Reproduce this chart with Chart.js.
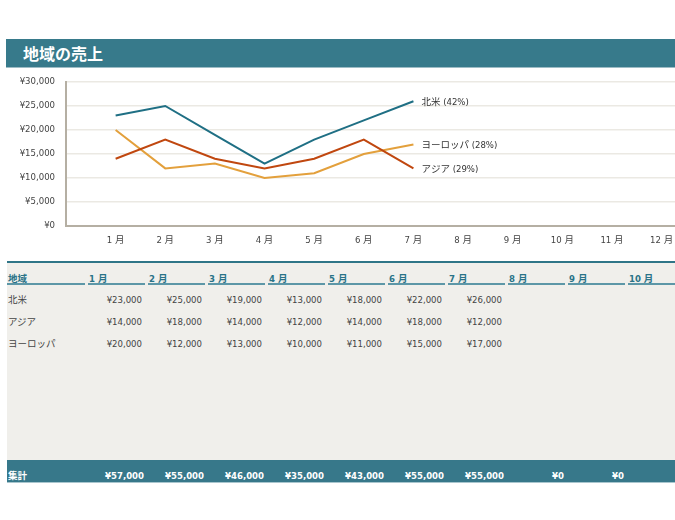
<!DOCTYPE html>
<html lang="ja">
<head>
<meta charset="utf-8">
<script src="https://cdn.jsdelivr.net/npm/chart.js@4.4.1/dist/chart.umd.min.js"></script>
<style>
  html, body { margin: 0; padding: 0; background: #fff; width: 675px; height: 520px; overflow: hidden; }
  body { position: relative; font-family: "DejaVu Sans Condensed", "DejaVu Sans", "Noto Sans CJK JP", sans-serif; }
  .title {
    position: absolute; left: 6px; top: 39px; width: 669px; height: 29px;
    background: #377a8b; border-bottom: 1px solid #9dbcc5; box-sizing: border-box;
    color: #fff; font: bold 16px "Noto Sans CJK JP", sans-serif; line-height: 28px; padding-left: 17px;
  }
  #wrap { position: absolute; left: 0; top: 70px; width: 675px; height: 180px; }
  .sheet {
    position: absolute; left: 7px; top: 261px; width: 668px; height: 197px;
    background: #f0efeb; border-top: 2px solid #2f7587;
  }
  .total {
    position: absolute; left: 7px; top: 460px; width: 668px; height: 22px;
    background: #37788a; border-bottom: 1px solid #a9c6ce;
  }
  .cell { position: absolute; height: 14px; line-height: 14px; font-size: 9.5px; color: #444; white-space: nowrap; }
  .head { font-weight: bold; color: #2a7388; }
  .uline { position: absolute; height: 2px; background: #5d97a7; }
  .num { text-align: right; }
  .tot { font-weight: bold; color: #fff; }
</style>
</head>
<body>
<div class="title">地域の売上</div>
<div id="wrap"><canvas id="myChart" width="675" height="180"></canvas></div>
<div class="sheet"></div>
<div class="total"></div>
<script>
const months = ['1 月', '2 月', '3 月', '4 月', '5 月', '6 月', '7 月', '8 月', '9 月', '10 月', '11 月', '12 月']
const regions = ['北米', 'アジア', 'ヨーロッパ']
const northAmerica = [23000, 25000, 19000, 13000, 18000, 22000, 26000]
const asia = [14000, 18000, 14000, 12000, 14000, 18000, 12000]
const europe = [20000, 12000, 13000, 10000, 11000, 15000, 17000]
const yTicks = [0, 5000, 10000, 15000, 20000, 25000, 30000]
const colors = ['#1f6f84', '#c0470f', '#e3a03c']

const series = [northAmerica, asia, europe]
const fontFamily = '"DejaVu Sans Condensed", "DejaVu Sans", "Noto Sans CJK JP", sans-serif'
const yen = (v) => '¥' + v.toLocaleString('en-US')

const sum = (arr) => arr.reduce((a, b) => a + b, 0)
const grand = sum(series.map(sum))

const endLabels = {
  id: 'endLabels',
  afterDatasetsDraw(chart) {
    const { ctx } = chart
    ctx.save()
    ctx.font = `9.5px ${fontFamily}`
    ctx.fillStyle = '#333'
    ctx.textBaseline = 'middle'
    ctx.textAlign = 'left'
    chart.data.datasets.forEach((ds, i) => {
      const meta = chart.getDatasetMeta(i)
      const last = meta.data[meta.data.length - 1]
      ctx.fillText(ds.endLabel, last.x + 8, last.y + 1)
    })
    ctx.restore()
  },
}

const data = {
  datasets: regions.map((name, i) => ({
    label: name,
    endLabel: `${name} (${Math.round((sum(series[i]) / grand) * 100)}%)`,
    data: series[i].map((v, m) => ({ x: m + 1, y: v })),
    borderColor: colors[i],
    borderWidth: 2,
    pointRadius: 0,
    tension: 0,
    fill: false,
  })),
}

// no extra room for edge labels, the plot fills the canvas
const noPadding = (scale) => {
  scale.paddingTop = 0
  scale.paddingBottom = 0
  scale.paddingLeft = 0
  scale.paddingRight = 0
}

const config = {
  type: 'line',
  data: data,
  options: {
    responsive: false,
    animation: false,
    devicePixelRatio: 1,
    layout: { padding: { top: 12, right: 0, left: 0, bottom: 0 } },
    plugins: {
      legend: { display: false },
      tooltip: { enabled: false },
    },
    scales: {
      x: {
        type: 'linear',
        min: 0,
        max: 12.27,
        afterBuildTicks: (scale) => {
          scale.ticks = months.map((m, i) => ({ value: i + 1 }))
        },
        afterFit: (scale) => {
          scale.height = 24
          noPadding(scale)
        },
        grid: { display: false, drawTicks: false },
        border: { display: true, color: '#b5afa3', width: 2 },
        ticks: {
          autoSkip: false,
          maxRotation: 0,
          padding: 9,
          color: '#444',
          font: { family: fontFamily, size: 9.5 },
          callback: (v) => months[v - 1],
        },
      },
      y: {
        min: 0,
        max: 30000,
        afterBuildTicks: (scale) => {
          scale.ticks = yTicks.map((v) => ({ value: v }))
        },
        afterFit: (scale) => {
          scale.width = 66
          noPadding(scale)
        },
        grid: { color: '#ebe9e3', lineWidth: 1.5, drawTicks: false },
        border: { display: true, color: '#b5afa3', width: 2 },
        ticks: {
          padding: 11,
          color: '#444',
          font: { family: fontFamily, size: 9.5 },
          callback: (v) => yen(v),
        },
      },
    },
  },
  plugins: [endLabels],
}

const myChart = new Chart(document.getElementById('myChart'), config)

// sheet below the chart
function cell(text, left, width, top, cls) {
  const d = document.createElement('div')
  d.className = 'cell ' + cls
  d.style.left = left + 'px'
  d.style.width = width + 'px'
  d.style.top = top + 'px'
  d.textContent = text
  document.body.appendChild(d)
}
function uline(left, width) {
  const d = document.createElement('div')
  d.className = 'uline'
  d.style.left = left + 'px'
  d.style.width = width + 'px'
  d.style.top = '283px'
  document.body.appendChild(d)
}

const colLeft = (k) => 88 + 60 * k
cell('地域', 8, 76, 272, 'head')
uline(7, 78)
months.forEach((m, k) => {
  cell(m, colLeft(k) + 1, 56, 272, 'head')
  uline(colLeft(k), 57)
})

const rowTops = [293, 315, 337]
regions.forEach((name, r) => {
  cell(name, 8, 76, rowTops[r], '')
  series[r].forEach((v, k) => {
    cell(yen(v), colLeft(k), 54, rowTops[r], 'num')
  })
})

cell('集計', 8, 76, 469, 'tot')
months.slice(0, 9).forEach((m, k) => {
  const total = sum(series.map((s) => s[k] || 0))
  cell(yen(total), colLeft(k), 56, 469, 'num tot')
})
</script>
</body>
</html>
